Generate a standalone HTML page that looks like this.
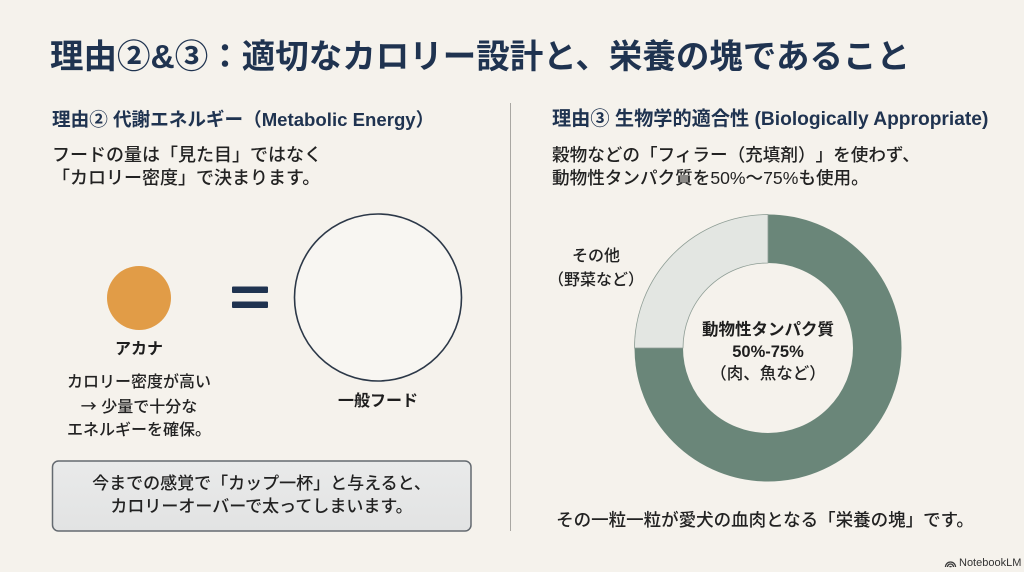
<!DOCTYPE html>
<html><head><meta charset="utf-8">
<style>
html,body{margin:0;padding:0;}
body{width:1024px;height:572px;background:#f5f2ec;position:relative;overflow:hidden;font-family:"Liberation Sans","Noto Sans CJK JP",sans-serif;color:#222;text-spacing-trim:space-all;}
.t{position:absolute;white-space:nowrap;text-spacing-trim:space-all;}
.navy{color:#1f3350;}
.c{text-align:center;transform:translateX(-50%);}
.m{font-weight:500;}
.cj{font-family:"Noto Sans CJK JP",sans-serif;}
</style></head><body>
<svg width="1024" height="572" style="position:absolute;left:0;top:0">
  <line x1="510.5" y1="103" x2="510.5" y2="531" stroke="#a9a7a2" stroke-width="1"/>
  <circle cx="139" cy="298" r="32" fill="#e19c47"/>
  <rect x="232" y="286.5" width="36" height="6.5" rx="1" fill="#1f3350"/>
  <rect x="232" y="301.5" width="36" height="6.5" rx="1" fill="#1f3350"/>
  <circle cx="378" cy="297.5" r="83.5" fill="#f8f6f2" stroke="#2c3848" stroke-width="1.6"/>
  <defs><linearGradient id="g" x1="0" y1="0" x2="0" y2="1"><stop offset="0" stop-color="#e9eaea"/><stop offset="1" stop-color="#e2e3e3"/></linearGradient></defs>
  <rect x="52.5" y="461" width="418.5" height="70" rx="6" fill="url(#g)" stroke="#646a70" stroke-width="1.5"/>
  <circle cx="768" cy="348" r="109.25" fill="none" stroke="#6a8679" stroke-width="48.5"/>
  <path d="M 634.5 348 A 133.5 133.5 0 0 1 768 214.5 L 768 263 A 85 85 0 0 0 683 348 Z" fill="#e3e6e2" stroke="#8e9d95" stroke-width="0.8"/>
  <g fill="none" stroke="#3a3a3a" stroke-width="1.3">
    <path d="M945.5 567 A5 5 0 0 1 955.5 567"/>
    <path d="M947.5 567 A3 3 0 0 1 953.5 567"/>
    <path d="M949.5 567 A1.2 1.2 0 0 1 951.5 567"/>
  </g>
</svg>

<div class="t navy" style="left:50px;top:40.5px;font-size:33.5px;line-height:34px;font-weight:bold;">理由②&amp;③：適切なカロリー設計と、栄養の塊であること</div>

<div class="t navy" style="left:52px;top:109.5px;font-size:18.6px;line-height:19px;font-weight:bold;">理由② 代謝エネルギー（Metabolic Energy）</div>
<div class="t m" style="left:52px;top:143.5px;font-size:18px;line-height:23px;">フードの量は「見た目」ではなく<br>「カロリー密度」で決まります。</div>

<div class="t navy" style="left:552px;top:109.5px;font-size:19.2px;line-height:19px;font-weight:bold;">理由③ 生物学的適合性 (Biologically Appropriate)</div>
<div class="t m" style="left:552px;top:143.5px;font-size:17.6px;line-height:23px;">穀物などの「フィラー（充填剤）」を使わず、<br>動物性タンパク質を50%〜75%も使用。</div>

<div class="t c" style="left:139px;top:341.5px;font-size:16px;line-height:16px;font-weight:bold;color:#1e1e1e;">アカナ</div>
<div class="t c m" style="left:139px;top:370.5px;font-size:16px;line-height:23px;">カロリー密度が高い<br><span class="cj">→</span> 少量で十分な<br>エネルギーを確保。</div>
<div class="t c" style="left:378px;top:394px;font-size:16px;line-height:16px;font-weight:bold;color:#1e1e1e;">一般フード</div>

<div class="t c m" style="left:261.5px;top:472px;font-size:17px;line-height:23px;">今までの感覚で「カップ一杯」と与えると、<br>カロリーオーバーで太ってしまいます。</div>

<div class="t c m" style="left:596px;top:245px;font-size:16px;line-height:23.5px;">その他<br>（野菜など）</div>

<div class="t c" style="left:768px;top:318.5px;font-size:16.5px;line-height:22.5px;font-weight:bold;color:#1e1e1e;">動物性タンパク質<br>50%-75%</div>
<div class="t c m" style="left:768px;top:363px;font-size:16.5px;line-height:23px;">（肉、魚など）</div>

<div class="t c m" style="left:765px;top:508.5px;font-size:17.5px;line-height:22px;">その一粒一粒が愛犬の血肉となる「栄養の塊」です。</div>

<div class="t" style="left:959px;top:556px;font-size:11px;line-height:14px;color:#333;">NotebookLM</div>
</body></html>
